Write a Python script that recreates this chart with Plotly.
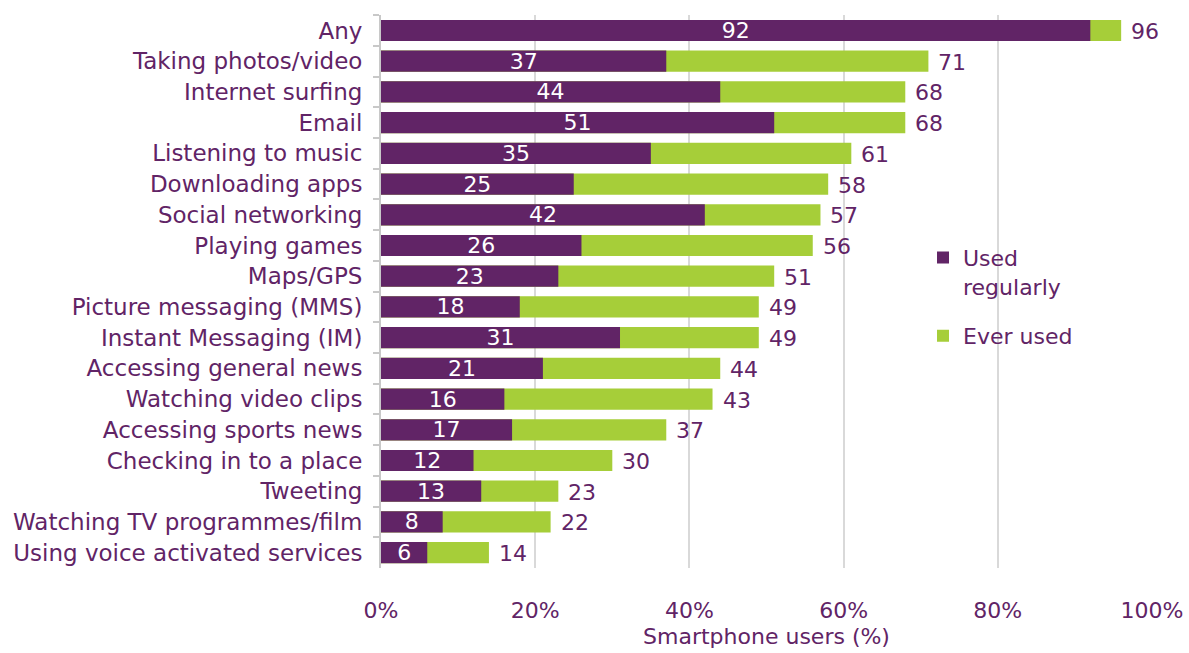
import plotly.graph_objects as go

categories = [
    "Any", "Taking photos/video", "Internet surfing", "Email",
    "Listening to music", "Downloading apps", "Social networking",
    "Playing games", "Maps/GPS", "Picture messaging (MMS)",
    "Instant Messaging (IM)", "Accessing general news",
    "Watching video clips", "Accessing sports news",
    "Checking in to a place", "Tweeting", "Watching TV programmes/film",
    "Using voice activated services",
]
used_regularly = [92, 37, 44, 51, 35, 25, 42, 26, 23, 18, 31, 21, 16, 17, 12, 13, 8, 6]
ever_used = [96, 71, 68, 68, 61, 58, 57, 56, 51, 49, 49, 44, 43, 37, 30, 23, 22, 14]
x_ticks = [0, 20, 40, 60, 80, 100]
x_tick_labels = ["0%", "20%", "40%", "60%", "80%", "100%"]

PURPLE = "#612466"
GREEN = "#a6ce39"
TEXT = "#612466"
FONT = "DejaVu Sans, Liberation Sans, Arial, sans-serif"

fig = go.Figure()

fig.add_trace(go.Bar(
    y=categories, x=ever_used, orientation="h", name="Ever used",
    marker=dict(color=GREEN, line=dict(width=0)),
    legendgroup="b", legendrank=2,
    hoverinfo="x+y",
))
fig.add_trace(go.Bar(
    y=categories, x=used_regularly, orientation="h", name="Used<br>regularly",
    marker=dict(color=PURPLE, line=dict(width=0)),
    text=[str(v) for v in used_regularly], textposition="inside",
    insidetextanchor="middle", constraintext="none", textangle=0,
    textfont=dict(color="white", size=22, family=FONT),
    legendgroup="a", legendrank=1,
    hoverinfo="x+y",
))

# total labels just past the end of each green bar
for cat, val in zip(categories, ever_used):
    fig.add_annotation(
        x=val, y=cat, text=str(val), showarrow=False,
        xanchor="left", yanchor="middle", xshift=8, yshift=-1,
        font=dict(color=TEXT, size=22, family=FONT),
    )

fig.update_layout(
    width=1189, height=653,
    margin=dict(l=381, r=37, t=15, b=85, autoexpand=False),
    paper_bgcolor="white", plot_bgcolor="white",
    barmode="overlay", bargap=0.31,
    font=dict(family=FONT, color=TEXT, size=22),
    showlegend=True,
    legend=dict(
        x=0.703, y=0.599, xanchor="left", yanchor="top",
        font=dict(size=22, color=TEXT, family=FONT),
        valign="top", tracegroupgap=18, traceorder="grouped",
        bgcolor="rgba(0,0,0,0)", itemwidth=30,
    ),
    xaxis=dict(
        range=[0, 100], tickvals=x_ticks, ticktext=x_tick_labels,
        showgrid=True, gridcolor="#d9d9d9", gridwidth=2,
        zeroline=False, showline=False, ticks="",
        ticklabelstandoff=27, automargin=False,
        tickfont=dict(size=22, color=TEXT, family=FONT),
        title=dict(text="Smartphone users (%)", standoff=6,
                   font=dict(size=22, color=TEXT, family=FONT)),
        fixedrange=True,
    ),
    yaxis=dict(
        autorange="reversed", type="category",
        showline=True, linecolor="#c8c8c8", linewidth=2,
        ticks="outside", tickson="boundaries", ticklen=6,
        tickcolor="#c8c8c8", tickwidth=2,
        ticklabelstandoff=12, automargin=False,
        tickfont=dict(size=23, color=TEXT, family=FONT),
        showgrid=False, fixedrange=True,
    ),
)

fig.write_html("out.html")
